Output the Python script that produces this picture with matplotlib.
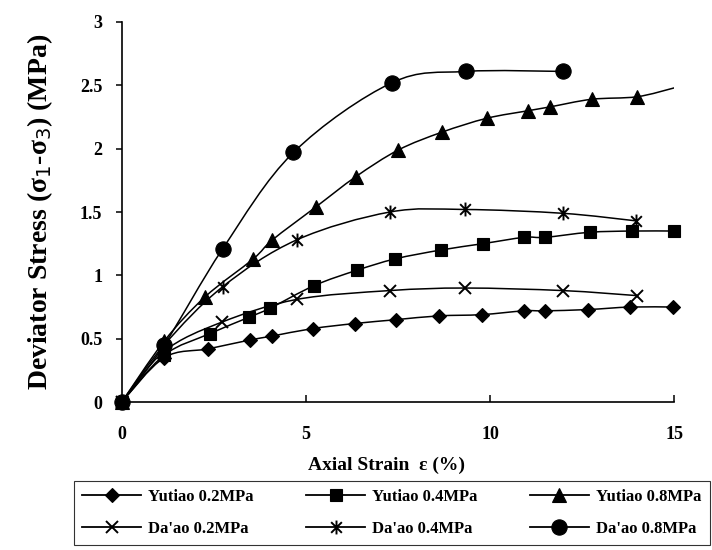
import numpy as np
import matplotlib
matplotlib.use("Agg")
import matplotlib.pyplot as plt
from matplotlib.path import Path
from matplotlib.patches import PathPatch
from matplotlib.lines import Line2D

# strain (%) and deviator stress (MPa)
yutiao_02_x = [0, 1.15, 2.35, 3.48, 4.07, 5.18, 6.33, 7.44, 8.60, 9.77, 10.92, 11.49, 12.65, 13.80, 14.96]
yutiao_02_y = [0, 0.35, 0.42, 0.49, 0.52, 0.58, 0.62, 0.65, 0.68, 0.69, 0.72, 0.72, 0.73, 0.75, 0.75]

yutiao_04_x = [0, 1.15, 2.39, 3.46, 4.02, 5.23, 6.38, 7.42, 8.66, 9.80, 10.92, 11.49, 12.70, 13.85, 14.98]
yutiao_04_y = [0, 0.37, 0.54, 0.67, 0.74, 0.92, 1.04, 1.13, 1.20, 1.25, 1.30, 1.30, 1.34, 1.35, 1.35]

yutiao_08_x = [0, 1.15, 2.26, 3.57, 4.09, 5.27, 6.36, 7.51, 8.69, 9.91, 11.04, 11.63, 12.76, 13.99, 15.0]
yutiao_08_y = [0, 0.48, 0.83, 1.13, 1.28, 1.54, 1.78, 1.99, 2.13, 2.24, 2.30, 2.33, 2.39, 2.41, 2.48]

daao_02_x = [0, 1.15, 2.71, 4.75, 7.28, 9.32, 11.97, 13.99]
daao_02_y = [0, 0.40, 0.63, 0.81, 0.88, 0.90, 0.88, 0.84]

daao_04_x = [0, 1.15, 2.74, 4.75, 7.28, 9.32, 11.97, 13.97]
daao_04_y = [0, 0.45, 0.91, 1.28, 1.50, 1.52, 1.49, 1.43]

daao_08_x = [0, 1.15, 2.74, 4.66, 7.33, 9.35, 11.97]
daao_08_y = [0, 0.45, 1.21, 1.97, 2.52, 2.61, 2.61]

labels = ["Yutiao 0.2MPa", "Yutiao 0.4MPa", "Yutiao 0.8MPa",
          "Da'ao 0.2MPa", "Da'ao 0.4MPa", "Da'ao 0.8MPa"]

# excel style asterisk: an x with a vertical bar
star = Path([(-1, -1), (1, 1), (-1, 1), (1, -1), (0, -1.3), (0, 1.3)],
            [Path.MOVETO, Path.LINETO, Path.MOVETO, Path.LINETO, Path.MOVETO, Path.LINETO])


def smooth_path(x, y):
    # catmull-rom through the points, as cubic bezier segments
    pts = np.column_stack([x, y]).astype(float)
    verts = [pts[0]]
    codes = [Path.MOVETO]
    n = len(pts)
    for i in range(n - 1):
        p0 = pts[max(i - 1, 0)]
        p1 = pts[i]
        p2 = pts[i + 1]
        p3 = pts[min(i + 2, n - 1)]
        c1 = p1 + (p2 - p0) / 6.0
        c2 = p2 - (p3 - p1) / 6.0
        verts += [c1, c2, p2]
        codes += [Path.CURVE4] * 3
    return Path(verts, codes)


plt.rcParams['font.family'] = ['Liberation Serif', 'DejaVu Serif']

fig = plt.figure(figsize=(7.12, 5.5), dpi=100)
ax = fig.add_axes([0.171, 0.269, 0.776, 0.691])

series = [
    (yutiao_02_x, yutiao_02_y, 'D', 7.5, None),
    (yutiao_04_x, yutiao_04_y, 's', 9, None),
    (yutiao_08_x, yutiao_08_y, '^', 9.5, slice(0, -1)),
    (daao_02_x, daao_02_y, 'x', 9, None),
    (daao_04_x, daao_04_y, star, 10, None),
    (daao_08_x, daao_08_y, 'o', 11, None),
]

handles = []
for (x, y, m, ms, me), lab in zip(series, labels):
    ax.add_patch(PathPatch(smooth_path(x, y), fill=False, edgecolor='black', lw=1.1, zorder=2))
    mew = 1.4 if m in ('x',) or m is star else 0.8
    ax.plot(x, y, ls='none', marker=m, ms=ms, color='black', mew=mew,
            markevery=me, clip_on=False, zorder=3)
    handles.append(Line2D([], [], color='black', lw=1.3, marker=m, ms=ms, mew=mew))

ax.set_xlim(0, 15)
ax.set_ylim(0, 3)
ax.set_xticks([0, 5, 10, 15])
ax.set_yticks([0, 0.5, 1, 1.5, 2, 2.5, 3])
ax.set_yticklabels(['0', '0.5', '1', '1.5', '2', '2.5', '3'])
ax.spines['top'].set_visible(False)
ax.spines['right'].set_visible(False)
ax.spines['left'].set_linewidth(1.2)
ax.spines['bottom'].set_linewidth(1.2)
ax.tick_params(axis='y', direction='out', length=4, width=1.1, labelsize=13, pad=10)
ax.tick_params(axis='x', direction='in', length=5, width=1.1, labelsize=13, pad=17)
for t in ax.get_xticklabels() + ax.get_yticklabels():
    t.set_fontweight('bold')

ax.set_xlabel("Axial Strain  ε (%)", fontsize=14, fontweight='bold')
ax.xaxis.set_label_coords(0.48, -0.145)
ax.set_ylabel("Deviator Stress (σ$_1$-σ$_3$) (MPa)", fontsize=20, fontweight='bold', labelpad=18)

order = [0, 3, 1, 4, 2, 5]
leg = fig.legend([handles[i] for i in order], [labels[i] for i in order],
                 loc='upper left', bbox_to_anchor=(0.104, 0.0, 0.893, 0.1255),
                 mode='expand', ncol=3, fancybox=False, frameon=True,
                 prop={'weight': 'bold', 'size': 12}, handlelength=3.5,
                 handletextpad=0.45, borderaxespad=0.0, borderpad=0.5,
                 labelspacing=0.95, columnspacing=0.6)
leg.get_frame().set_edgecolor('black')
leg.get_frame().set_linewidth(0.8)

fig.savefig("out.png", dpi=100)
